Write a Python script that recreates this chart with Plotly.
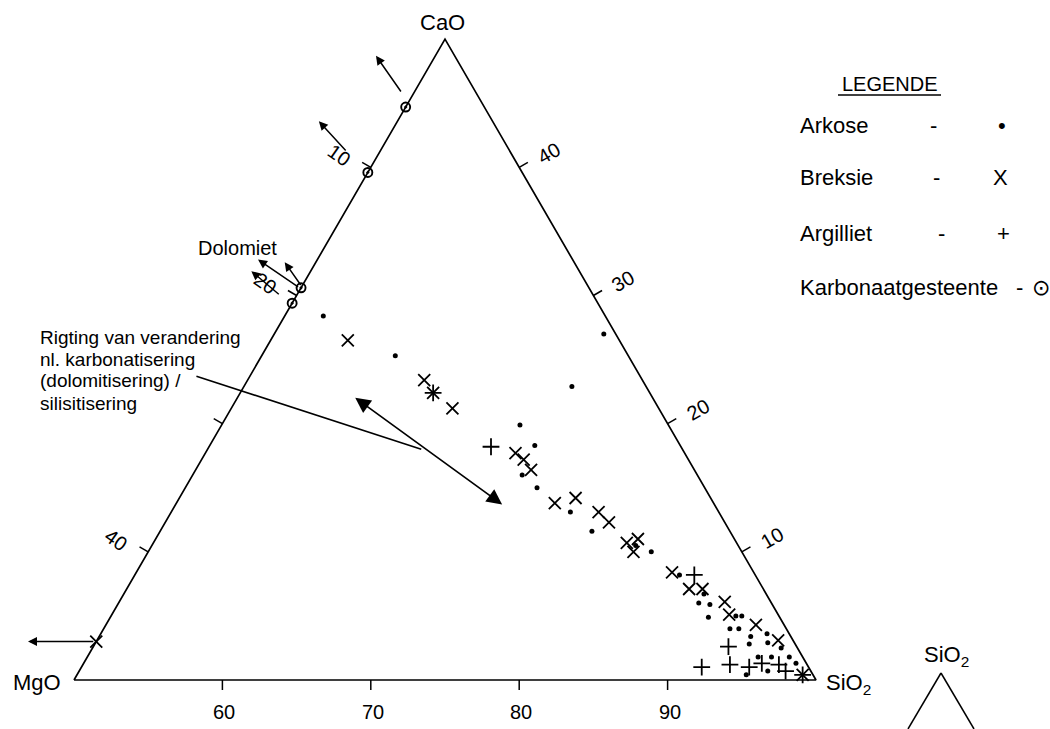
import math
import plotly.graph_objects as go

FONT = "Liberation Sans, Arial, DejaVu Sans, sans-serif"

# ---------------- data (wt %): CaO and SiO2 per sample, MgO = 100 - CaO - SiO2 -------------
arkose_cao = [28.4, 25.3, 22.9, 27.0, 19.9, 18.3, 16.0, 15.0, 13.1, 11.6, 10.5, 10.0, 8.2, 6.7,
              6.0, 5.9, 4.9, 5.0, 5.0, 4.0, 4.0, 3.4, 2.8, 3.6, 2.9, 2.5, 0.4, 1.8, 1.8, 0.7,
              1.8, 1.3]
arkose_sio2 = [52.6, 59.0, 72.1, 72.2, 70.1, 71.9, 72.2, 73.7, 76.9, 79.1, 82.6, 83.9, 86.7, 89.1,
               89.1, 89.9, 90.3, 92.1, 92.5, 92.2, 92.8, 93.9, 94.1, 94.9, 95.3, 96.4, 95.1, 95.2,
               96.1, 96.4, 97.3, 98.0]

breksie_cao = [26.5, 23.4, 22.4, 21.2, 17.7, 17.2, 16.4, 13.8, 14.2, 13.1, 12.3, 10.7, 11.0, 10.0,
               8.4, 7.1, 7.1, 6.1, 5.1, 4.3, 3.1, 0.4, 3.0]
breksie_sio2 = [55.2, 61.9, 63.0, 64.9, 70.9, 71.7, 72.6, 75.5, 76.7, 78.8, 79.9, 81.9, 82.5, 82.7,
                86.1, 87.9, 88.8, 90.8, 91.6, 93.8, 95.9, 98.9, 50.0]

argilliet_cao = [22.4, 18.2, 8.2, 2.6, 1.0, 1.2, 1.0, 1.3, 1.2, 0.7, 0.4]
argilliet_sio2 = [63.0, 69.0, 87.7, 92.8, 91.8, 93.6, 95.0, 95.7, 96.9, 97.6, 98.9]

karbonaat_cao = [44.7, 39.6, 30.6, 29.4]
karbonaat_sio2 = [50.0, 50.0, 50.0, 50.0]

# direction-of-change arrows: tail (CaO, SiO2) -> head (CaO, SiO2)
arrow_tail_cao = [45.8, 41.2, 30.7, 30.6, 30.0, 3.0]
arrow_tail_sio2 = [49.2, 47.8, 50.0, 49.9, 48.9, 49.9]
arrow_head_cao = [48.7, 43.6, 32.6, 32.8, 31.9, 3.0]
arrow_head_sio2 = [46.0, 44.7, 47.9, 46.0, 46.0, 45.4]

# double headed arrow (karbonatisering <-> silisitisering) and pointer line
trend_cao = [22.1, 13.7]
trend_sio2 = [57.8, 72.0]
pointer_cao = [23.7, 18.0]
pointer_sio2 = [46.4, 64.4]

# axis ticks
sio2_ticks = [60, 70, 80, 90]
sio2_labels = ["60", "70", "80", "90"]
cao_ticks = [10, 20, 30, 40]
cao_labels = ["10", "20", "30", "40"]
mgo_ticks = [10, 20, 30, 40]
mgo_labels = ["10", "20", "", "40"]

legend_names = ["Arkose", "Breksie", "Argilliet", "Karbonaatgesteente"]
legend_marks = ["•", "X", "+", "⊙"]

note_lines = ["Rigting van verandering", "nl. karbonatisering", "(dolomitisering) /",
              "silisitisering"]

# ---------------- ternary projection -------------------------------------------------------
H = math.sqrt(3) / 2.0
PXX, PXY = 742.0, 740.0  # pixels per data unit


def tern(cao, sio2):
    a = cao / 50.0
    c = (sio2 - 50.0) / 50.0
    return c + a / 2.0, a * H


def tern_list(caos, sio2s):
    pts = [tern(a, s) for a, s in zip(caos, sio2s)]
    return [p[0] for p in pts], [p[1] for p in pts]


def txt(size):
    return dict(size=size, family=FONT, color="black")


fig = go.Figure()

# triangle frame
fx, fy = tern_list([0, 0, 50, 0], [50, 100, 50, 50])
fig.add_trace(go.Scatter(x=fx, y=fy, mode="lines", line=dict(color="black", width=1.7),
                         hoverinfo="skip", showlegend=False))

# tick marks and labels
TL = 10.0
tx, ty = [], []
annots = []
for v, lab in zip(sio2_ticks, sio2_labels):
    x0, y0 = tern(0, v)
    tx += [x0, x0, None]
    ty += [y0, y0 - TL / PXY, None]
    if lab:
        annots.append(dict(x=x0, y=y0, xref="x", yref="y", text=lab, showarrow=False,
                           xanchor="center", xshift=2, yshift=-32, font=txt(20)))
for v, lab in zip(cao_ticks, cao_labels):
    x0, y0 = tern(v, 100 - v)
    tx += [x0, x0 + 0.866 * TL / PXX, None]
    ty += [y0, y0 + 0.5 * TL / PXY, None]
    if lab:
        annots.append(dict(x=x0, y=y0, xref="x", yref="y", text=lab, showarrow=False,
                           xanchor="center", xshift=30, yshift=14, textangle=-30,
                           font=txt(20)))
for v, lab in zip(mgo_ticks, mgo_labels):
    x0, y0 = tern(50 - v, 50)
    tx += [x0, x0 - 0.866 * TL / PXX, None]
    ty += [y0, y0 + 0.5 * TL / PXY, None]
    if lab:
        annots.append(dict(x=x0, y=y0, xref="x", yref="y", text=lab, showarrow=False,
                           xanchor="center", xshift=-32, yshift=12, textangle=35,
                           font=txt(20)))
fig.add_trace(go.Scatter(x=tx, y=ty, mode="lines", line=dict(color="black", width=1.5),
                         hoverinfo="skip", showlegend=False))

# pointer line from the note to the trend arrow
px_, py_ = tern_list(pointer_cao, pointer_sio2)
fig.add_trace(go.Scatter(x=px_, y=py_, mode="lines", line=dict(color="black", width=1.6),
                         hoverinfo="skip", showlegend=False))

# sample series
series = [
    ("Arkose", arkose_cao, arkose_sio2, dict(symbol="circle", size=5, color="black")),
    ("Breksie", breksie_cao, breksie_sio2,
     dict(symbol="x-thin", size=12, color="black", line=dict(color="black", width=1.8))),
    ("Argilliet", argilliet_cao, argilliet_sio2,
     dict(symbol="cross-thin", size=12, color="black", line=dict(color="black", width=1.8))),
    ("Karbonaatgesteente", karbonaat_cao, karbonaat_sio2,
     dict(symbol="circle-open-dot", size=9, color="black", line=dict(color="black", width=1.9))),
]
for name, ca, si, mk in series:
    xs, ys = tern_list(ca, si)
    fig.add_trace(go.Scatter(x=xs, y=ys, mode="markers", name=name, marker=mk,
                             showlegend=False))

# arrows of change
for tc, ts, hc, hs in zip(arrow_tail_cao, arrow_tail_sio2, arrow_head_cao, arrow_head_sio2):
    x0, y0 = tern(tc, ts)
    x1, y1 = tern(hc, hs)
    annots.append(dict(x=x1, y=y1, ax=x0, ay=y0, xref="x", yref="y", axref="x", ayref="y",
                       text="", showarrow=True, arrowhead=2, arrowsize=1.2, arrowwidth=1.5,
                       arrowcolor="black"))
x0, y0 = tern(trend_cao[0], trend_sio2[0])
x1, y1 = tern(trend_cao[1], trend_sio2[1])
annots.append(dict(x=x1, y=y1, ax=x0, ay=y0, xref="x", yref="y", axref="x", ayref="y",
                   text="", showarrow=True, arrowhead=2, arrowsize=1.8, arrowwidth=1.7,
                   arrowside="end+start", startarrowhead=2, startarrowsize=1.8,
                   arrowcolor="black"))

# corner labels
cx, cy = tern(50, 50)
annots.append(dict(x=cx, y=cy, xref="x", yref="y", text="CaO", showarrow=False,
                   xanchor="center", xshift=-3, yshift=17, font=txt(22)))
cx, cy = tern(0, 50)
annots.append(dict(x=cx, y=cy, xref="x", yref="y", text="MgO", showarrow=False,
                   xanchor="center", xshift=-37, yshift=-2, font=txt(22)))
cx, cy = tern(0, 100)
annots.append(dict(x=cx, y=cy, xref="x", yref="y", text="SiO<sub>2</sub>", showarrow=False,
                   xanchor="center", xshift=32, yshift=-4, font=txt(22)))

# Dolomiet label
annots.append(dict(x=237.5 / 1050, y=1 - 248 / 729, xref="paper", yref="paper", text="Dolomiet",
                   showarrow=False, xanchor="center", yanchor="middle", font=txt(20)))

# note text
for i, line in enumerate(note_lines):
    annots.append(dict(x=38 / 1050, y=1 - (337 + 22 * i) / 729, xref="paper", yref="paper",
                       text=line, showarrow=False, xanchor="left", yanchor="middle",
                       font=txt(19)))

# legend block
annots.append(dict(x=890 / 1050, y=1 - 84 / 729, xref="paper", yref="paper", text="LEGENDE",
                   showarrow=False, xanchor="center", yanchor="middle", font=txt(20)))
legend_y = [125, 178, 233, 287]
dash_x = [933, 936, 941, 1019]
mark_x = [1002, 1000, 1003, 1041]
for name, mark, ly, dx, mx in zip(legend_names, legend_marks, legend_y, dash_x, mark_x):
    annots.append(dict(x=798 / 1050, y=1 - ly / 729, xref="paper", yref="paper", text=name,
                       showarrow=False, xanchor="left", yanchor="middle", font=txt(22)))
    annots.append(dict(x=dx / 1050, y=1 - ly / 729, xref="paper", yref="paper", text="-",
                       showarrow=False, xanchor="center", yanchor="middle", font=txt(22)))
    annots.append(dict(x=mx / 1050, y=1 - ly / 729, xref="paper", yref="paper", text=mark,
                       showarrow=False, xanchor="center", yanchor="middle", font=txt(22)))

# inset corner sketch
annots.append(dict(x=946 / 1050, y=1 - 656 / 729, xref="paper", yref="paper",
                   text="SiO<sub>2</sub>", showarrow=False, xanchor="center", yanchor="middle",
                   font=txt(22)))
shapes = [
    dict(type="line", xref="paper", yref="paper", x0=838 / 1050, x1=941 / 1050,
         y0=1 - 95 / 729, y1=1 - 95 / 729, line=dict(color="black", width=1.5)),
    dict(type="line", xref="paper", yref="paper", x0=941 / 1050, y0=1 - 673 / 729,
         x1=908 / 1050, y1=0, line=dict(color="black", width=1.5)),
    dict(type="line", xref="paper", yref="paper", x0=941 / 1050, y0=1 - 673 / 729,
         x1=974 / 1050, y1=0, line=dict(color="black", width=1.5)),
]

fig.update_layout(
    width=1050, height=729, autosize=False,
    margin=dict(l=0, r=0, t=0, b=0),
    paper_bgcolor="white", plot_bgcolor="white",
    xaxis=dict(visible=False, range=[-74 / PXX, 976 / PXX], fixedrange=True),
    yaxis=dict(visible=False, range=[-49 / PXY, 680 / PXY], fixedrange=True),
    annotations=annots, shapes=shapes, showlegend=False,
    font=dict(family=FONT, color="black"),
)

fig.write_html("out.html")
